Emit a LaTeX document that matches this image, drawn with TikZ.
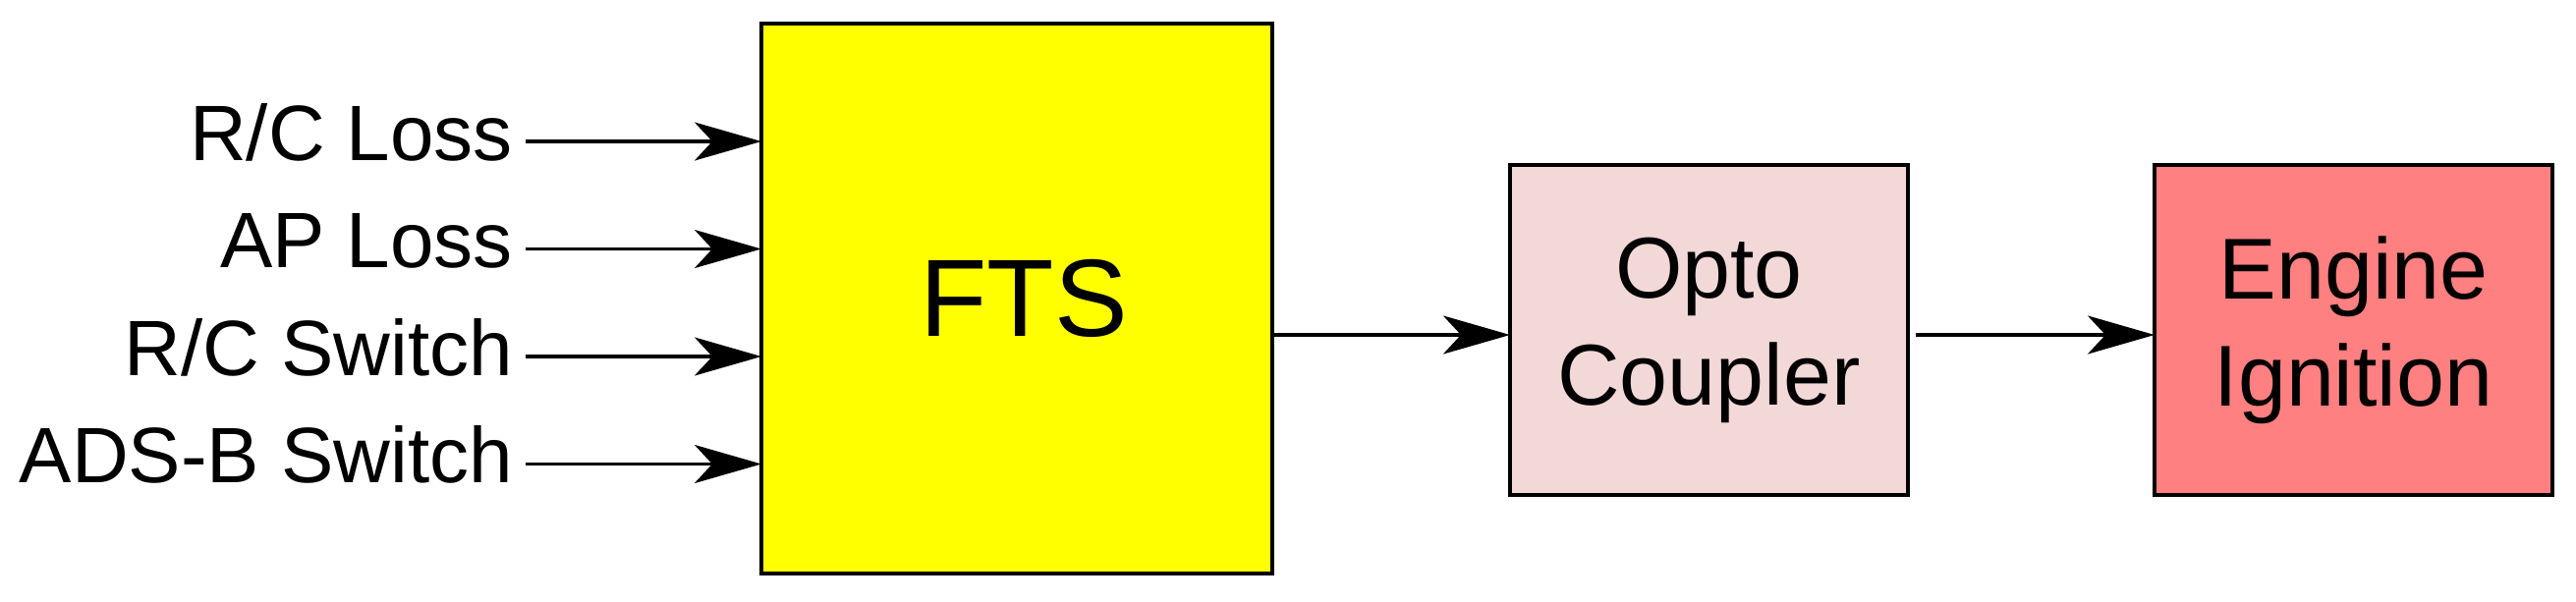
\documentclass[tikz,border=0pt]{standalone}
\usepackage{fontspec}
\setmainfont{Liberation Sans}
\usetikzlibrary{arrows.meta}
\definecolor{ftsyellow}{RGB}{255,255,0}
\definecolor{optopink}{RGB}{243,216,216}
\definecolor{enginered}{RGB}{255,128,128}
\tikzset{
  blockbox/.style={draw=black, line width=0.95pt, rectangle, inner sep=0pt, outer sep=0pt, align=center},
  inlabel/.style={inner sep=0pt, outer sep=0pt, anchor=base east, font=\fontsize{20pt}{24pt}\selectfont},
  flow/.style={line width=0.85pt, -{Stealth[length=17pt, width=9.75pt, inset=4.5pt]}}
}
\begin{document}
\begin{tikzpicture}[x=0.25pt, y=-0.25pt]
\useasboundingbox[fill=white] (0,0) rectangle (2622,612);

% blocks
\node[blockbox, fill=ftsyellow, minimum width=130pt, minimum height=140pt,
      font=\fontsize{28pt}{34pt}\selectfont] (fts) at (1035,304) {\hspace*{3.5pt}FTS};
\node[blockbox, fill=optopink, minimum width=101.25pt, minimum height=84pt,
      font=\fontsize{22pt}{27.25pt}\selectfont] (opto) at (1739.5,336) {Opto\\Coupler};
\node[blockbox, fill=enginered, minimum width=101.25pt, minimum height=84pt,
      font=\fontsize{22pt}{27.25pt}\selectfont] (engine) at (2395.5,336) {Engine\\Ignition};

% input labels
\node[inlabel] (l1) at (522,163) {R/C Loss};
\node[inlabel] (l2) at (522,272.5) {AP Loss};
\node[inlabel] (l3) at (522,382) {R/C Switch};
\node[inlabel] (l4) at (522,491.5) {ADS-B Switch};

% input arrow start points
\coordinate (s1) at (535,144);
\coordinate (s2) at (535,253.5);
\coordinate (s3) at (535,363);
\coordinate (s4) at (535,472.5);
\coordinate (m) at (0,341);

\draw[flow] (s1) -- (s1 -| fts.west);
\draw[flow] (s2) -- (s2 -| fts.west);
\draw[flow] (s3) -- (s3 -| fts.west);
\draw[flow] (s4) -- (s4 -| fts.west);

\draw[flow] (fts.east |- m) -- (opto.west |- m);
\draw[flow] ([xshift=2pt]opto.east |- m) -- (engine.west |- m);
\end{tikzpicture}
\end{document}
